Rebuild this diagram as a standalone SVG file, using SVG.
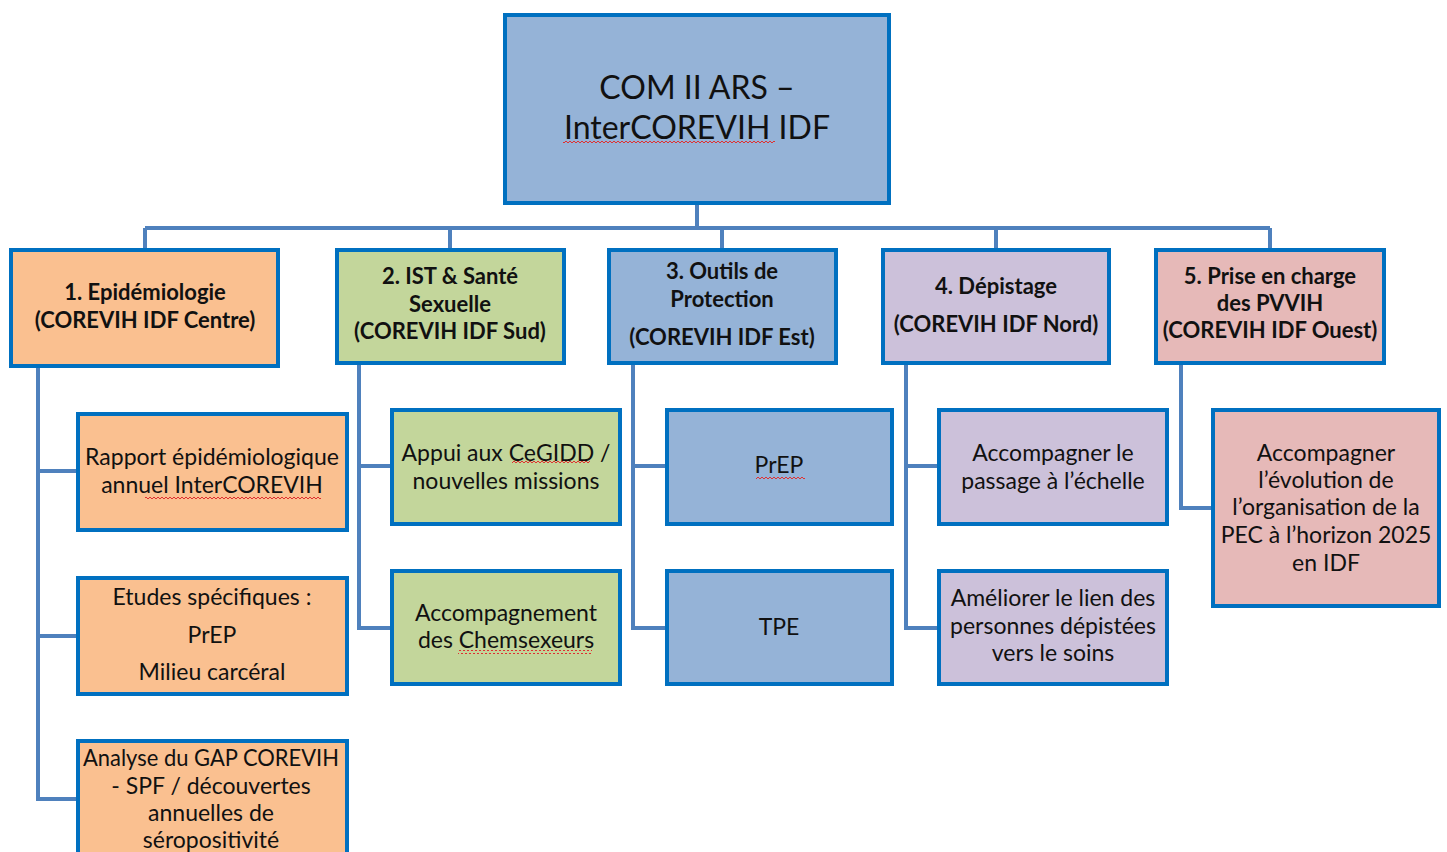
<svg xmlns="http://www.w3.org/2000/svg" width="1447" height="852" viewBox="0 0 1447 852">
<defs>
<pattern id="sqp" patternUnits="userSpaceOnUse" width="4" height="4">
<path d="M0 3L2 1L4 3" fill="none" stroke="#E03030" stroke-width="1"/>
</pattern>
</defs>
<style>
.box{stroke:#0070C0;stroke-width:4}
.top{fill:#95B3D7}
.c1{fill:#FAC090}
.c2{fill:#C3D69B}
.c3{fill:#95B3D7}
.c4{fill:#CCC1DA}
.c5{fill:#E6B9B8}
.conn{fill:none;stroke:#4F81BD;stroke-width:4}
text{font-family:Lato,"Open Sans","Liberation Sans",sans-serif;fill:#111;text-anchor:middle}
.t{font-size:32px}
.h{font-size:22px;font-weight:bold}
.n{font-size:23px}
.sq{fill:url(#sqp)}
</style>
<rect width="1447" height="852" fill="#fff"/>
<g id="connectors">
<path class="conn" d="M697 203V228M145 228H1270M145 228V250M450 228V250M722 228V250M996 228V250M1270 228V250"/>
<path class="conn" d="M38 366V799H77M38 471H77M38 636H77"/>
<path class="conn" d="M359 363V628H391M359 466H391"/>
<path class="conn" d="M633 363V628H666M633 466H666"/>
<path class="conn" d="M906 363V628H938M906 466H938"/>
<path class="conn" d="M1181 363V508H1212"/>
</g>
<g id="root">
<rect class="box top" x="505" y="15" width="384" height="188"/>
<text class="t" x="697" y="99">COM II ARS –</text>
<text class="t" x="697" y="139">InterCOREVIH IDF</text>
<rect class="sq" x="563" y="141" width="212" height="4"/>
</g>
<g id="h1">
<rect class="box c1" x="11" y="250" width="267" height="116"/>
<text class="h" x="145" y="300">1. Epidémiologie</text>
<text class="h" x="145" y="328">(COREVIH IDF Centre)</text>
</g>
<g id="h2">
<rect class="box c2" x="337" y="250" width="227" height="113"/>
<text class="h" x="450" y="284">2. IST &amp; Santé</text>
<text class="h" x="450" y="312">Sexuelle</text>
<text class="h" x="450" y="339">(COREVIH IDF Sud)</text>
</g>
<g id="h3">
<rect class="box c3" x="609" y="250" width="227" height="113"/>
<text class="h" x="722" y="279">3. Outils de</text>
<text class="h" x="722" y="307">Protection</text>
<text class="h" x="722" y="345">(COREVIH IDF Est)</text>
</g>
<g id="h4">
<rect class="box c4" x="883" y="250" width="226" height="113"/>
<text class="h" x="996" y="294">4. Dépistage</text>
<text class="h" x="996" y="332">(COREVIH IDF Nord)</text>
</g>
<g id="h5">
<rect class="box c5" x="1156" y="250" width="228" height="113"/>
<text class="h" x="1270" y="284">5. Prise en charge</text>
<text class="h" x="1270" y="311">des PVVIH</text>
<text class="h" x="1270" y="338">(COREVIH IDF Ouest)</text>
</g>
<g id="n1a">
<rect class="box c1" x="78" y="414" width="269" height="116"/>
<text class="n" x="212" y="465">Rapport épidémiologique</text>
<text class="n" x="212" y="493">annuel InterCOREVIH</text>
<rect class="sq" x="145" y="495" width="176" height="4"/>
</g>
<g id="n1b">
<rect class="box c1" x="78" y="578" width="269" height="116"/>
<text class="n" x="212" y="605">Etudes spécifiques :</text>
<text class="n" x="212" y="643">PrEP</text>
<text class="n" x="212" y="680">Milieu carcéral</text>
</g>
<g id="n1c">
<rect class="box c1" x="78" y="741" width="269" height="120"/>
<text class="n" x="211" y="766" textLength="256" lengthAdjust="spacingAndGlyphs">Analyse du GAP COREVIH</text>
<text class="n" x="211" y="794">- SPF / découvertes</text>
<text class="n" x="211" y="821">annuelles de</text>
<text class="n" x="211" y="848">séropositivité</text>
</g>
<g id="n2a">
<rect class="box c2" x="392" y="410" width="228" height="114"/>
<text class="n" x="506" y="461">Appui aux CeGIDD /</text>
<text class="n" x="506" y="489">nouvelles missions</text>
<rect class="sq" x="512" y="461" width="78" height="4"/>
</g>
<g id="n2b">
<rect class="box c2" x="392" y="571" width="228" height="113"/>
<text class="n" x="506" y="621">Accompagnement</text>
<text class="n" x="506" y="648">des Chemsexeurs</text>
<rect class="sq" x="458" y="650" width="134" height="4"/>
</g>
<g id="n3a">
<rect class="box c3" x="667" y="410" width="225" height="114"/>
<text class="n" x="779" y="473">PrEP</text>
<rect class="sq" x="756" y="476" width="49" height="4"/>
</g>
<g id="n3b">
<rect class="box c3" x="667" y="571" width="225" height="113"/>
<text class="n" x="779" y="635">TPE</text>
</g>
<g id="n4a">
<rect class="box c4" x="939" y="410" width="228" height="114"/>
<text class="n" x="1053" y="461">Accompagner le</text>
<text class="n" x="1053" y="489">passage à l’échelle</text>
</g>
<g id="n4b">
<rect class="box c4" x="939" y="571" width="228" height="113"/>
<text class="n" x="1053" y="606">Améliorer le lien des</text>
<text class="n" x="1053" y="634">personnes dépistées</text>
<text class="n" x="1053" y="661">vers le soins</text>
</g>
<g id="n5">
<rect class="box c5" x="1213" y="410" width="226" height="196"/>
<text class="n" x="1326" y="461">Accompagner</text>
<text class="n" x="1326" y="488">l’évolution de</text>
<text class="n" x="1326" y="515">l’organisation de la</text>
<text class="n" x="1326" y="543">PEC à l’horizon  2025</text>
<text class="n" x="1326" y="571">en IDF</text>
</g>
</svg>
